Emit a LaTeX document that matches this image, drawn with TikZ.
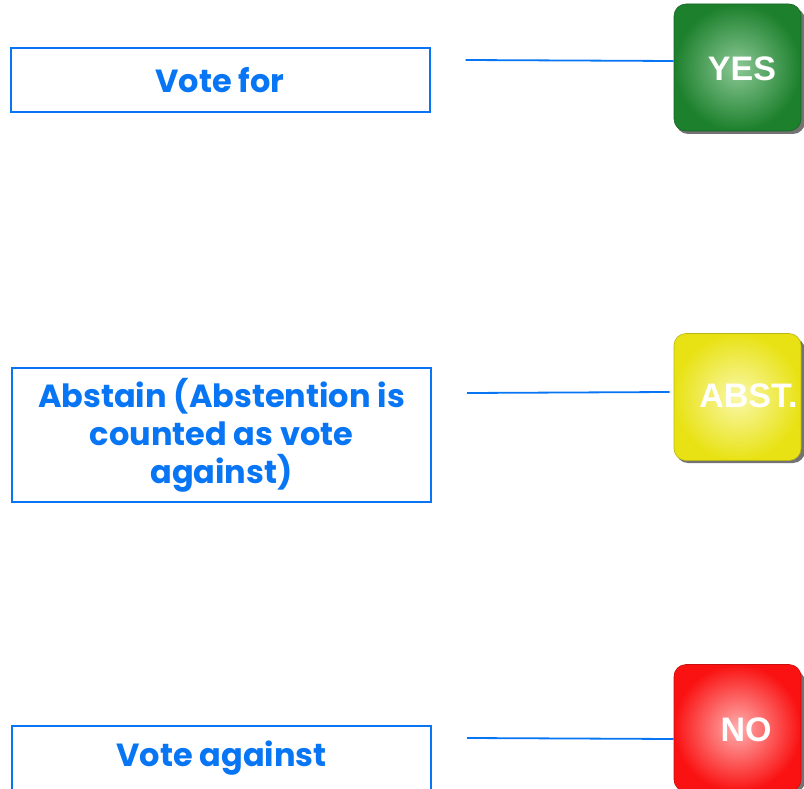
\documentclass[tikz,border=0pt]{standalone}
\usepackage{fontspec}
\newfontfamily\popfont{Poppins}
\newfontfamily\btnfont{Liberation Sans}
\usetikzlibrary{positioning}
\usetikzlibrary{calc}
\definecolor{voteblue}{RGB}{8,118,244}
\definecolor{yesdark}{RGB}{28,128,44}
\definecolor{yeslight}{RGB}{140,200,150}
\definecolor{absdark}{RGB}{232,226,20}
\definecolor{abslight}{RGB}{250,248,170}
\definecolor{nodark}{RGB}{250,18,18}
\definecolor{nolight}{RGB}{255,175,175}

\begin{document}
\begin{tikzpicture}[
    x=1pt, y=-1pt,
    % node styles
    choice/.style = {
      draw=voteblue,
      line width=2pt,
      fill=white,
      minimum width=419pt,
      align=center,
      font=\popfont\bfseries\fontsize{32}{38}\selectfont,
      text=voteblue
    },
    button/.style = {
      rounded corners=12pt,
      minimum size=127pt,
      inner sep=0pt,
      draw=#1!80!black,
      line width=0.6pt
    },
    btntext/.style = {
      font=\btnfont\bfseries\fontsize{34}{34}\selectfont,
      text=white,
      inner sep=0pt
    },
    % connector style
    link/.style = {line width=1.8pt, draw=voteblue}
  ]
  \useasboundingbox (0,0) rectangle (804,789);

  % --- Boxes
  \node[choice, minimum height=64pt] (vfor) at (220,80) {Vote for};
  \node[choice, minimum height=134pt] (vabst) at (221.5,435)
    {Abstain (Abstention is\\counted as vote\\against)};
  \node[choice, minimum height=64pt] (vagainst) at (221.5,758) {Vote against};

  % --- Buttons (shadow first)
  \fill[black!55, rounded corners=12pt] (676,8) rectangle (805,134);
  \fill[black!55, rounded corners=12pt] (676,338) rectangle (805,463);
  \fill[black!55, rounded corners=12pt] (676,670) rectangle (805,793);
  \node[button=yesdark, inner color=yeslight, outer color=yesdark] (yes) at (737.5,67.5) {};
  \node[button=absdark, inner color=abslight, outer color=absdark] (abst) at (737.5,397) {};
  \node[button=nodark, inner color=nolight, outer color=nodark] (no) at (737.5,728) {};

  \node[btntext] (yestext) at ($(yes)+(4.5,1)$) {YES};
  \node[btntext] (absttext) at ($(abst)+(11,-1)$) {ABST.};
  \node[btntext] (notext) at ($(no)+(8.5,2)$) {NO};

  % --- Connectors
  \draw[link] ($(vfor.east)+(35,-20)$) -- ($(yes.west)+(0,-6.5)$);
  \draw[link] ($(vabst.east)+(35,-42)$) -- ($(abst.west)+(-4,-5)$);
  \draw[link] ($(vagainst.east)+(35,-20)$) -- ($(no.west)+(0,11)$);

\end{tikzpicture}
\end{document}
